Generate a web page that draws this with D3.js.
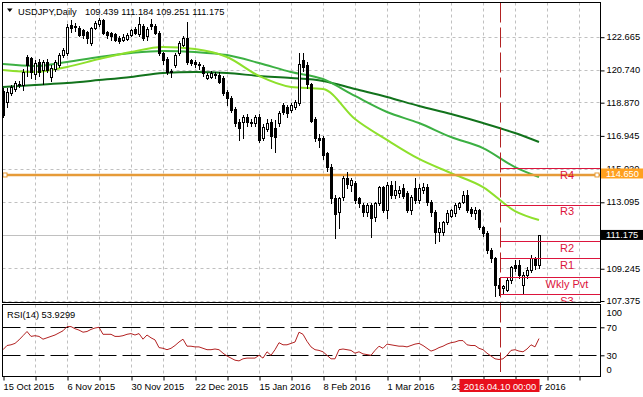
<!DOCTYPE html>
<html><head><meta charset="utf-8">
<script src="https://cdn.jsdelivr.net/npm/d3@7"></script>
<style>
html,body{margin:0;padding:0;background:#fff;}
svg{display:block;font-family:"Liberation Sans",Arial,sans-serif;}
</style></head><body>
<svg id="c" width="643" height="397"></svg>
<script>
// ---------------- data ----------------
const symbolTitle = "USDJPY,Daily";
const headerValues = "109.439 111.184 109.251 111.175";

const opens = [119.50,118.88,119.40,119.63,119.90,119.86,121.49,121.43,120.50,121.20,
120.73,121.20,120.33,120.80,121.02,121.60,121.72,123.34,123.20,123.17,
123.05,122.94,122.30,123.17,123.40,123.63,122.94,122.88,122.80,122.60,
122.50,122.55,122.76,123.10,122.80,123.30,122.70,123.40,123.30,122.90,
121.70,121.40,120.70,121.00,121.70,122.20,122.60,121.30,121.20,121.10,
120.90,120.30,120.35,120.50,120.45,120.30,119.46,119.10,118.50,117.70,
117.70,118.00,117.70,117.66,118.00,116.80,117.30,117.72,117.40,117.66,
118.70,118.60,118.40,118.60,118.80,121.30,121.00,119.90,117.90,116.80,
116.80,115.90,115.10,113.30,112.50,113.40,114.50,114.05,114.20,113.30,
112.90,112.50,112.90,112.20,113.00,113.95,112.60,114.06,113.50,113.60,
113.90,113.60,112.60,113.90,113.20,113.80,113.95,113.10,112.50,111.35,
111.34,111.90,112.30,112.44,112.80,113.10,113.48,112.70,112.44,112.60,
111.63,111.30,110.30,109.83,108.30,108.10,108.00,108.55,109.42,109.42,
108.26,108.84,109.13,109.83,109.439];
const highs = [119.69,119.69,119.86,120.10,120.10,120.80,121.60,121.50,121.30,121.40,
121.30,121.35,121.00,121.30,121.70,122.00,123.40,123.63,123.45,123.30,
123.10,123.00,123.20,123.60,123.75,123.70,123.00,122.95,122.90,122.70,
122.80,122.90,123.10,123.20,123.80,123.40,123.20,123.70,123.40,123.00,
121.80,121.50,120.80,121.70,122.40,122.70,123.50,121.40,121.30,121.20,
121.00,120.55,120.70,120.60,120.60,120.40,119.60,119.20,118.60,117.90,
118.10,118.20,117.90,118.10,118.20,117.60,117.90,117.90,117.83,118.35,
118.80,118.70,118.80,119.00,121.70,121.70,121.20,120.00,118.00,117.00,
116.90,116.00,115.30,113.50,113.40,114.60,114.80,114.50,114.30,113.40,
113.00,113.00,113.00,113.10,114.00,114.00,114.24,114.30,114.30,114.00,
114.10,113.70,113.50,114.45,114.10,114.20,114.10,113.20,112.60,111.90,
112.00,112.60,112.70,113.00,113.10,113.70,113.80,112.80,112.80,112.70,
111.70,111.40,110.40,109.90,108.70,108.30,108.70,109.40,109.72,109.70,
109.00,109.30,110.00,109.90,111.184];
const lows = [118.01,118.60,119.28,119.50,119.75,119.60,120.40,120.30,120.20,120.40,
119.90,120.60,120.10,120.70,120.90,121.50,121.60,122.94,123.00,122.70,
122.60,122.30,122.20,123.10,123.30,122.80,122.60,122.50,122.40,122.30,
122.40,122.45,122.70,122.80,122.70,122.50,122.50,123.10,122.80,121.60,
121.10,120.50,120.35,120.90,121.60,122.10,121.10,121.00,120.90,120.80,
120.40,120.20,120.25,120.30,120.00,119.30,118.70,118.30,117.50,116.70,
116.80,117.50,117.50,117.50,116.55,116.70,117.20,116.20,115.98,117.50,
118.20,118.00,118.30,118.50,118.70,120.70,119.70,117.70,116.60,116.30,
115.60,114.90,113.00,111.00,111.60,113.20,113.90,113.70,113.00,112.80,
112.30,112.30,111.05,112.00,112.90,112.50,112.15,113.30,113.30,113.40,
113.30,112.50,112.40,113.00,113.00,113.60,112.90,112.30,110.70,110.80,
111.20,111.80,112.20,112.30,112.70,113.00,112.50,112.30,112.10,111.50,
111.10,110.10,109.60,107.63,107.70,107.74,107.90,108.40,109.10,108.70,
107.80,108.70,109.00,109.20,109.251];
const closes = [118.12,119.46,119.75,119.98,119.95,120.62,121.02,120.62,121.14,120.62,
121.20,120.73,120.85,121.20,121.60,121.89,123.23,123.17,123.28,122.76,
122.76,122.59,123.17,123.46,123.63,122.88,122.76,122.70,122.50,122.40,
122.65,122.75,123.05,122.88,123.40,122.60,123.10,123.30,122.90,121.70,
121.30,120.60,120.60,121.60,122.30,122.60,121.20,121.14,121.10,121.00,
120.56,120.45,120.55,120.45,120.05,119.40,119.11,118.40,117.66,117.37,
118.00,117.70,117.72,118.00,116.70,117.43,117.66,116.90,116.85,118.24,
118.30,118.24,118.70,118.90,121.10,120.90,119.90,117.80,116.80,116.70,
115.80,115.10,113.30,112.40,113.30,114.50,114.10,114.35,113.20,113.00,
112.50,112.90,112.15,113.00,113.95,112.60,114.06,113.50,113.80,113.78,
113.45,112.60,113.37,113.20,113.90,113.95,113.08,112.50,111.34,111.60,
111.90,112.44,112.60,112.90,113.00,113.48,112.61,112.44,112.60,111.63,
111.28,110.30,109.83,108.26,108.10,108.20,108.55,109.31,109.25,108.84,
108.84,109.13,109.83,109.42,111.175];

// moving averages read at every 8th bar (and the last bar)
const maBars = [0,8,16,24,32,40,48,56,64,72,80,88,96,104,112,120,128,134];
const maFast = [120.74,120.62,120.91,121.37,121.78,122.07,121.95,121.49,120.39,119.75,119.63,117.89,116.68,115.58,114.76,113.95,112.56,112.04];
const maMid  = [121.08,120.97,121.20,121.49,121.72,121.84,121.78,121.60,121.14,120.62,120.21,119.23,118.30,117.66,116.85,116.21,115.11,114.53];
const maSlow = [119.75,119.87,119.98,120.15,120.33,120.56,120.62,120.56,120.39,120.27,120.10,119.63,119.17,118.65,118.18,117.66,117.08,116.56];

const rsiValues = [38,44,45,47,52,58,64,57,58,57,
53,55,57,59,62,65,71,71,68,66,
63,64,67,69,70,60,60,60,57,57,
58,60,61,59,61,53,59,55,52,41,
40,38,40,44,49,53,43,43,42,42,
40,38,38,39,38,33,29,26,23,22,
25,26,26,26,30,26,35,30,38,48,
45,45,47,49,63,60,50,42,38,37,
35,30,25,25,38,39,38,37,33,35,
32,31,30,37,43,40,46,45,44,43,
43,42,44,46,47,44,40,36,38,41,
43,46,48,49,51,51,45,44,44,40,
38,33,29,25,24,25,30,37,38,36,
35,39,45,42,53.93];
const rsiLabel = "RSI(14) 53.9299";
const rsiLevels = [30,70];
const rsiTicks = [0,30,70,100];

const priceTicks = [107.375,109.245,111.170,113.095,115.020,116.945,118.870,120.740,122.665];
const gridBars = [8,16,24,32,40,48,56,64,72,80,88,96,104,112,120,128,136,144];
const dateTickBars = [0,8,16,24,32,40,48,56,64,72,80,88,96,104,112,120,128,136,144];
const dateLabelBars = [0,16,32,48,64,80,96,112,128];
const dateLabelTexts = ["15 Oct 2015","6 Nov 2015","30 Nov 2015","22 Dec 2015","15 Jan 2016","8 Feb 2016","1 Mar 2016","23 Mar 2016","14 Apr 2016"];

const currentPrice = 111.175;
const hLineLevel = 114.650;
const pivotNames = ["R4","R3","R2","R1","Wkly Pvt","S3"];
const pivotValues = [115.03,112.93,110.80,109.82,108.72,107.73];
const markerBar = 124.25;
const markerLabel = "2016.04.10 00:00";

// ---------------- layout ----------------
const L = 2.5, R = 600.5, T = 2.5, B = 302.5, RT = 304.5, RB = 376.5;
const svg = d3.select("#c");
const FS = "9.3px";

const x = d3.scaleLinear().domain([0, 134]).range([3, 539]);
const y = d3.scaleLinear().domain([107.375, 122.665]).range([300.5, 36.7]);
const yr = d3.scaleLinear().domain([0, 100]).range([376.3, 306.3]);

const defs = svg.append("defs");
defs.append("clipPath").attr("id","cm").append("rect").attr("x",L).attr("y",T).attr("width",R-L).attr("height",B-T);
defs.append("clipPath").attr("id","cr").append("rect").attr("x",L).attr("y",RT).attr("width",R-L).attr("height",RB-RT);

const main = svg.append("g").attr("clip-path","url(#cm)");
const rsiG = svg.append("g").attr("clip-path","url(#cr)");
const px = v => Math.round(v) + 0.5;

// grid main
main.selectAll(".hg").data(priceTicks).join("line")
  .attr("x1",L).attr("x2",R).attr("y1",d=>px(y(d))).attr("y2",d=>px(y(d)))
  .attr("stroke","#c0c0c0").attr("stroke-dasharray","3,3");
main.selectAll(".vg").data(gridBars).join("line")
  .attr("x1",d=>px(x(d))).attr("x2",d=>px(x(d))).attr("y1",T).attr("y2",B)
  .attr("stroke","#c0c0c0").attr("stroke-dasharray","3,3");
rsiG.selectAll(".vg").data(gridBars).join("line")
  .attr("x1",d=>px(x(d))).attr("x2",d=>px(x(d))).attr("y1",RT).attr("y2",RB)
  .attr("stroke","#c0c0c0").attr("stroke-dasharray","3,3");

// current price line
main.append("line").attr("x1",L).attr("x2",R)
  .attr("y1",px(y(currentPrice))).attr("y2",px(y(currentPrice)))
  .attr("stroke","#c0c0c0");

// moving averages
const maLine = arr => d3.line().x((d,i)=>x(maBars[i])).y(d=>y(d)).curve(d3.curveMonotoneX)(arr);
main.append("path").attr("d",maLine(maSlow)).attr("fill","none").attr("stroke","#12731c").attr("stroke-width",2);
main.append("path").attr("d",maLine(maMid)).attr("fill","none").attr("stroke","#3cb043").attr("stroke-width",2);
main.append("path").attr("d",maLine(maFast)).attr("fill","none").attr("stroke","#8ee02c").attr("stroke-width",2);

// orange horizontal line
main.append("line").attr("x1",L).attr("x2",R)
  .attr("y1",y(hLineLevel)).attr("y2",y(hLineLevel))
  .attr("stroke","#e69b38").attr("stroke-width",2.5);
[L+2.5, R-3.5].forEach(cx=>{
  main.append("rect").attr("x",cx-2).attr("y",y(hLineLevel)-2).attr("width",4).attr("height",4)
    .attr("fill","#fff").attr("stroke","#e69b38").attr("stroke-width",1);
});

// candles
const idx = d3.range(closes.length);
const cg = main.append("g").attr("shape-rendering","crispEdges");
cg.selectAll(".wk").data(idx).join("line")
  .attr("x1",i=>x(i)+0.5).attr("x2",i=>x(i)+0.5)
  .attr("y1",i=>Math.round(y(highs[i]))).attr("y2",i=>Math.round(y(lows[i]))+1)
  .attr("stroke","#000");
cg.selectAll(".bd").data(idx).join("rect")
  .attr("x",i=>x(i)-0.5).attr("width",2)
  .attr("y",i=>Math.round(y(Math.max(opens[i],closes[i])))+0.5)
  .attr("height",i=>Math.max(0.5,Math.round(y(Math.min(opens[i],closes[i])))-Math.round(y(Math.max(opens[i],closes[i])))))
  .attr("fill",i=>closes[i]>=opens[i]?"#fff":"#000")
  .attr("stroke","#000");

// pivots
const xv = x(markerBar);
const pg = main.append("g");
pg.selectAll("line").data(pivotValues).join("line")
  .attr("x1",xv).attr("x2",R).attr("y1",d=>px(y(d))).attr("y2",d=>px(y(d)))
  .attr("stroke","#dc143c").attr("stroke-width",1);
pg.selectAll("text").data(pivotValues).join("text")
  .attr("x",R-33.5).attr("y",d=>y(d)+10.8).attr("text-anchor","middle")
  .attr("font-size","11px").attr("fill","#dc143c")
  .text((d,i)=>pivotNames[i]);

// RSI
rsiG.selectAll(".lv").data(rsiLevels).join("line")
  .attr("x1",L).attr("x2",R).attr("y1",d=>px(yr(d))).attr("y2",d=>px(yr(d)))
  .attr("stroke","#000").attr("stroke-dasharray","18,6");
rsiG.append("path")
  .attr("d",d3.line().x((d,i)=>x(i)).y(d=>yr(d))(rsiValues))
  .attr("fill","none").attr("stroke","#b22222").attr("stroke-width",1);

// vertical marker
svg.append("line").attr("x1",px(xv)).attr("x2",px(xv)).attr("y1",T).attr("y2",372)
  .attr("stroke","#b22222").attr("stroke-dasharray","20,5");

// panel borders
svg.append("rect").attr("x",L).attr("y",T).attr("width",R-L).attr("height",B-T).attr("fill","none").attr("stroke","#000");
svg.append("rect").attr("x",L).attr("y",RT).attr("width",R-L).attr("height",RB-RT).attr("fill","none").attr("stroke","#000");

// price axis
const ax = svg.append("g").attr("transform",`translate(${R},0)`)
  .call(d3.axisRight(y).tickValues(priceTicks).tickSize(4).tickPadding(2).tickFormat(d3.format(".3f")));
ax.select(".domain").remove();
ax.selectAll("line").attr("stroke","#000").attr("transform","translate(0,0.5)");
ax.selectAll("text").attr("font-size",FS).attr("font-family","Liberation Sans, Arial, sans-serif").attr("fill","#000");

// RSI axis
const ar = svg.append("g").attr("transform",`translate(${R},0)`)
  .call(d3.axisRight(yr).tickValues(rsiTicks).tickSize(4).tickPadding(2));
ar.select(".domain").remove();
ar.selectAll(".tick").filter(d=>d===0||d===100).select("line").remove();
ar.selectAll("text").attr("font-size",FS).attr("font-family","Liberation Sans, Arial, sans-serif").attr("fill","#000")
  .attr("y",d=>d===100?6:(d===0?-7:0));

// date axis
const ad = svg.append("g").attr("transform",`translate(0,${RB})`)
  .call(d3.axisBottom(x).tickValues(dateTickBars).tickSize(4)
    .tickFormat(d=>{const k=dateLabelBars.indexOf(d);return k>=0?dateLabelTexts[k]:"";}));
ad.select(".domain").remove();
ad.selectAll("line").attr("stroke","#000").attr("transform","translate(0.5,0)");
ad.selectAll("text").attr("font-size",FS).attr("font-family","Liberation Sans, Arial, sans-serif").attr("fill","#000")
  .attr("text-anchor","start").attr("x",0).attr("y",13).attr("dy",0);

// current price box
const cpY = y(currentPrice);
svg.append("rect").attr("x",601).attr("y",cpY-5).attr("width",42).attr("height",10).attr("fill","#000");
svg.append("text").attr("x",606).attr("y",cpY+3.3).attr("font-size",FS).attr("fill","#fff").text(d3.format(".3f")(currentPrice));

// orange level box
const hY = y(hLineLevel)-1.5;
svg.append("rect").attr("x",601).attr("y",hY-5).attr("width",42).attr("height",10).attr("fill","#ffa01e");
svg.append("text").attr("x",606).attr("y",hY+3.3).attr("font-size",FS).attr("fill","#fff").text(d3.format(".3f")(hLineLevel));

// marker date box
const mb = svg.append("g");
mb.append("rect").attr("x",xv-40.5).attr("y",379).attr("width",80).attr("height",13).attr("fill","#e8101c");
mb.append("text").attr("x",xv).attr("y",389.5).attr("text-anchor","middle").attr("font-size",FS).attr("fill","#fff").text(markerLabel);

// header
svg.append("path").attr("d","M7,8.5 L12.5,8.5 L9.75,12 Z").attr("fill","#000");
svg.append("text").attr("x",18).attr("y",14.5).attr("font-size",FS).attr("fill","#000").text(symbolTitle);
svg.append("text").attr("x",85).attr("y",14.5).attr("font-size",FS).attr("fill","#000").text(headerValues);

// RSI label
svg.append("text").attr("x",7).attr("y",318).attr("font-size",FS).attr("fill","#000").text(rsiLabel);
</script></body></html>
